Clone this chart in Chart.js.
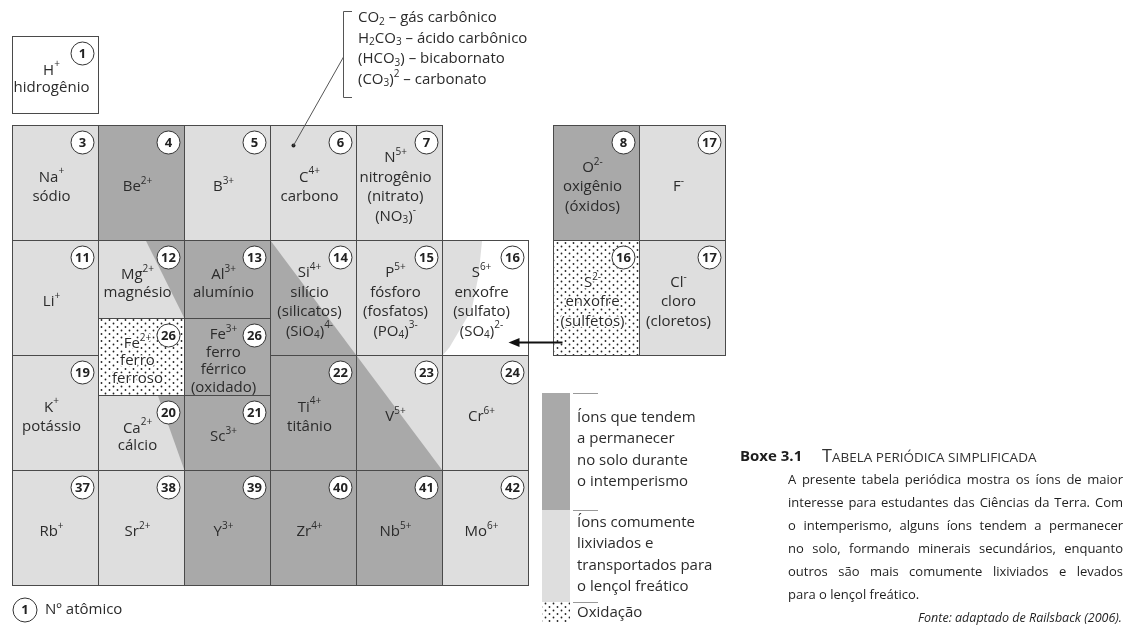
<!DOCTYPE html>
<html>
<head>
<meta charset="utf-8">
<script src="https://cdn.jsdelivr.net/npm/chart.js@4.4.1/dist/chart.umd.min.js"></script>
<style>
  html, body { margin: 0; padding: 0; background: #fff; }
  #wrap { width: 1125px; height: 630px; }
</style>
</head>
<body>
<div id="wrap"><canvas id="table" width="1125" height="630"></canvas></div>
<script>
// ---- data ----
const atomicNumbers = [1, 3, 4, 5, 6, 7, 11, 12, 13, 14, 15, 16, 26, 26, 19, 20, 21, 22, 23, 24, 37, 38, 39, 40, 41, 42, 8, 17, 16, 17];
const cellCol  = [0, 0, 1, 2, 3, 4, 0, 1, 2, 3, 4, 5, 1, 2, 0, 1, 2, 3, 4, 5, 0, 1, 2, 3, 4, 5, 6.29, 7.29, 6.29, 7.29];
const cellRow  = [-0.774, 0, 0, 0, 0, 0, 1, 1, 1, 1, 1, 1, 1.678, 1.678, 2, 2.348, 2.348, 2, 2, 2, 3, 3, 3, 3, 3, 3, 0, 0, 1, 1];
const cellSpan = [0.67, 1, 1, 1, 1, 1, 1, 0.678, 0.678, 1, 1, 1, 0.67, 0.67, 1, 0.652, 0.652, 1, 1, 1, 1, 1, 1, 1, 1, 1, 1, 1, 1, 1];
const cellFill = ['white', 'light', 'dark', 'light', 'light', 'light',
                  'light', 'light', 'dark', 'light', 'light', 'white',
                  'dot', 'dark',
                  'light', 'light', 'dark', 'dark', 'light', 'light',
                  'light', 'light', 'dark', 'dark', 'dark', 'light',
                  'dark', 'light', 'dot', 'light'];
const ionLabels = [
  ['H^{+}', 'hidrogênio'], ['Na^{+}', 'sódio'], ['Be^{2+}'], ['B^{3+}'], ['C^{4+}', 'carbono'],
  ['N^{5+}', 'nitrogênio', '(nitrato)', '(NO_{3})^{-}'],
  ['Li^{+}'], ['Mg^{2+}', 'magnésio'], ['Al^{3+}', 'alumínio'],
  ['Si^{4+}', 'silício', '(silicatos)', '(SiO_{4})^{4-}'],
  ['P^{5+}', 'fósforo', '(fosfatos)', '(PO_{4})^{3-}'],
  ['S^{6+}', 'enxofre', '(sulfato)', '(SO_{4})^{2-}'],
  ['Fe^{2+}', 'ferro', 'ferroso'], ['Fe^{3+}', 'ferro', 'férrico', '(oxidado)'],
  ['K^{+}', 'potássio'], ['Ca^{2+}', 'cálcio'], ['Sc^{3+}'], ['Ti^{4+}', 'titânio'], ['V^{5+}'], ['Cr^{6+}'],
  ['Rb^{+}'], ['Sr^{2+}'], ['Y^{3+}'], ['Zr^{4+}'], ['Nb^{5+}'], ['Mo^{6+}'],
  ['O^{2-}', 'oxigênio', '(óxidos)'], ['F^{-}'], ['S^{2-}', 'enxofre', '(sulfetos)'], ['Cl^{-}', 'cloro', '(cloretos)']
];
// partly shaded cells (shape given as fractions of the cell)
const overlayCell  = [7, 15, 9, 18, 11];
const overlayFill  = ['dark', 'dark', 'dark', 'dark', 'light'];
const overlayShape = [
  [[0.55, 0], [1, 0], [1, 1]],
  [[0.69, 0], [1, 0], [1, 1]],
  [[0, 0], [1, 1], [0, 1]],
  [[0, 0], [1, 1], [0, 1]],
  [[0, 0], [0.46, 0], [0.42, 0.3], [0.34, 0.6], [0.08, 0.93], [0, 1]]
];
const carbonNotes = ['CO_{2} – gás carbônico', 'H_{2}CO_{3} – ácido carbônico', '(HCO_{3}) – bicabornato', '(CO_{3})^{2} – carbonato'];
const legendDark  = ['Íons que tendem', 'a permanecer', 'no solo durante', 'o intemperismo'];
const legendLight = ['Íons comumente', 'lixiviados e', 'transportados para', 'o lençol freático'];
const boxLines = [
  'A presente tabela periódica mostra os íons de maior',
  'interesse para estudantes das Ciências da Terra. Com',
  'o intemperismo, alguns íons tendem a permanecer',
  'no solo, formando minerais secundários, enquanto',
  'outros são mais comumente lixiviados e levados',
  'para o lençol freático.'
];

// ---- style ----
const FONT  = "'Open Sans', 'Noto Sans', sans-serif";
const DARK  = '#a9a9a9';
const LIGHT = '#dedede';
const INK   = '#2b2b2b';
const LINE  = '#4a4a4a';

function parseRich(s) {
  const out = [];
  const re = /([\^_])\{([^}]*)\}|([^\^_]+)/g;
  let m;
  while ((m = re.exec(s))) {
    if (m[3]) out.push({ t: m[3], k: 'n' });
    else out.push({ t: m[2], k: m[1] === '^' ? 'sup' : 'sub' });
  }
  return out;
}

function drawRich(ctx, s, x, y, size, align, halo) {
  const segs = parseRich(s);
  const small = Math.round(size * 0.66);
  const fontFor = k => (k === 'n' ? size : small) + 'px ' + FONT;
  let w = 0;
  segs.forEach(sg => { ctx.font = fontFor(sg.k); sg.w = ctx.measureText(sg.t).width; w += sg.w; });
  let cx = align === 'center' ? x - w / 2 : x;
  ctx.textAlign = 'left';
  ctx.textBaseline = 'middle';
  segs.forEach(sg => {
    ctx.font = fontFor(sg.k);
    const dy = sg.k === 'sup' ? -size * 0.38 : sg.k === 'sub' ? size * 0.25 : 0;
    if (halo) {
      ctx.save();
      ctx.strokeStyle = '#fff';
      ctx.lineWidth = 3;
      ctx.lineJoin = 'round';
      ctx.strokeText(sg.t, cx, y + dy);
      ctx.restore();
    }
    ctx.fillText(sg.t, cx, y + dy);
    cx += sg.w;
  });
}

function dotPattern(ctx) {
  const p = document.createElement('canvas');
  p.width = 8; p.height = 7;
  const g = p.getContext('2d');
  g.fillStyle = '#fff';
  g.fillRect(0, 0, 8, 7);
  g.fillStyle = '#222';
  g.beginPath(); g.arc(1.5, 1.5, 0.9, 0, Math.PI * 2); g.fill();
  g.beginPath(); g.arc(5.5, 5, 0.9, 0, Math.PI * 2); g.fill();
  return ctx.createPattern(p, 'repeat');
}

function fillFor(ctx, kind) {
  if (kind === 'dark') return DARK;
  if (kind === 'light') return LIGHT;
  if (kind === 'dot') return dotPattern(ctx);
  return '#fff';
}

function justifyLine(ctx, text, x0, x1, y, justify) {
  const natural = ctx.measureText(text).width;
  const width = x1 - x0;
  if (natural > width) {
    ctx.save(); ctx.translate(x0, y); ctx.scale(width / natural, 1);
    ctx.fillText(text, 0, 0); ctx.restore();
    return;
  }
  if (!justify) { ctx.fillText(text, x0, y); return; }
  const words = text.split(' ');
  const wsum = words.reduce((s, w) => s + ctx.measureText(w).width, 0);
  const gap = (width - wsum) / (words.length - 1);
  let x = x0;
  words.forEach(w => { ctx.fillText(w, x, y); x += ctx.measureText(w).width + gap; });
}

function circleNum(ctx, n, cx, cy, r) {
  ctx.beginPath();
  ctx.arc(cx, cy, r, 0, Math.PI * 2);
  ctx.fillStyle = '#fff';
  ctx.fill();
  ctx.strokeStyle = '#333';
  ctx.lineWidth = 1;
  ctx.stroke();
  ctx.fillStyle = '#222';
  ctx.font = 'bold 13px ' + FONT;
  ctx.textAlign = 'center';
  ctx.textBaseline = 'middle';
  ctx.fillText(String(n), cx, cy + 0.5);
}

const tablePlugin = {
  id: 'periodicTable',
  afterDatasetsDraw(chart) {
    const ctx = chart.ctx;
    const xs = chart.scales.x, ys = chart.scales.y;
    const box = i => {
      const l = Math.round(xs.getPixelForValue(cellCol[i])) + 0.5;
      const r = Math.round(xs.getPixelForValue(cellCol[i] + 1)) + 0.5;
      const t = Math.round(ys.getPixelForValue(cellRow[i])) + 0.5;
      const b = Math.round(ys.getPixelForValue(cellRow[i] + cellSpan[i])) + 0.5;
      return { l, r, t, b, w: r - l, h: b - t };
    };
    ctx.save();

    // cell fills
    atomicNumbers.forEach((n, i) => {
      const c = box(i);
      ctx.fillStyle = fillFor(ctx, cellFill[i]);
      ctx.fillRect(c.l, c.t, c.w, c.h);
    });
    // partial shading
    overlayCell.forEach((ci, k) => {
      const c = box(ci);
      ctx.beginPath();
      overlayShape[k].forEach(([fx, fy], j) => {
        const px = c.l + fx * c.w, py = c.t + fy * c.h;
        j ? ctx.lineTo(px, py) : ctx.moveTo(px, py);
      });
      ctx.closePath();
      ctx.fillStyle = fillFor(ctx, overlayFill[k]);
      ctx.fill();
    });
    // borders
    ctx.strokeStyle = LINE;
    ctx.lineWidth = 1;
    atomicNumbers.forEach((n, i) => {
      const c = box(i);
      ctx.strokeRect(c.l, c.t, c.w, c.h);
    });
    // labels
    atomicNumbers.forEach((n, i) => {
      const c = box(i);
      const lines = ionLabels[i];
      const lh = cellSpan[i] < 0.75 ? 17.5 : 19.5;
      const cx = c.l + c.w / 2 - 4;
      const cy = c.t + c.h / 2 + 4;
      const y0 = cy - (lines.length - 1) * lh / 2;
      ctx.fillStyle = INK;
      lines.forEach((s, j) => drawRich(ctx, s, cx, y0 + j * lh, 15, 'center', cellFill[i] === 'dot'));
    });
    // atomic number circles
    atomicNumbers.forEach((n, i) => {
      const c = box(i);
      circleNum(ctx, n, c.r - 16, c.t + 17, 11.5);
    });

    // arrow from S2- (sulfetos) to S6+ (sulfato)
    const s2 = box(28), s6 = box(11);
    const ay = s2.b - 13, ax0 = s2.l + 9, ax1 = s6.r - 20;
    ctx.strokeStyle = '#111';
    ctx.lineWidth = 2;
    ctx.beginPath(); ctx.moveTo(ax0, ay); ctx.lineTo(ax1 + 8, ay); ctx.stroke();
    ctx.fillStyle = '#111';
    ctx.beginPath(); ctx.moveTo(ax1, ay); ctx.lineTo(ax1 + 11, ay - 4.5); ctx.lineTo(ax1 + 11, ay + 4.5); ctx.closePath(); ctx.fill();

    // carbon callout
    const cc = box(4);
    const dotX = cc.l + 23, dotY = cc.t + 20;
    ctx.fillStyle = '#222';
    ctx.beginPath(); ctx.arc(dotX, dotY, 2, 0, Math.PI * 2); ctx.fill();
    ctx.strokeStyle = '#555';
    ctx.lineWidth = 1;
    ctx.beginPath();
    ctx.moveTo(dotX, dotY); ctx.lineTo(343.5, 57);
    ctx.moveTo(352, 11.5); ctx.lineTo(343.5, 11.5); ctx.lineTo(343.5, 97.5); ctx.lineTo(352, 97.5);
    ctx.stroke();
    ctx.fillStyle = INK;
    carbonNotes.forEach((s, j) => drawRich(ctx, s, 358, 18 + j * 20.5, 15, 'left'));

    // atomic number key
    circleNum(ctx, 1, 25, 610, 12);
    ctx.fillStyle = INK;
    ctx.font = '15px ' + FONT;
    ctx.textAlign = 'left';
    ctx.textBaseline = 'middle';
    ctx.fillText('Nº atômico', 45, 610);

    // legend column
    ctx.fillStyle = DARK;  ctx.fillRect(542, 393, 28, 117);
    ctx.fillStyle = LIGHT; ctx.fillRect(542, 510, 28, 92);
    ctx.fillStyle = dotPattern(ctx); ctx.fillRect(542, 602, 28, 21);
    ctx.strokeStyle = '#999';
    ctx.beginPath();
    [393, 510, 602].forEach(y => { ctx.moveTo(573, y + 0.5); ctx.lineTo(598, y + 0.5); });
    ctx.stroke();
    ctx.fillStyle = INK;
    ctx.font = '15px ' + FONT;
    legendDark.forEach((s, j) => ctx.fillText(s, 577, 418 + j * 21.2));
    legendLight.forEach((s, j) => ctx.fillText(s, 577, 523 + j * 21.2));
    ctx.fillText('Oxidação', 577, 613);

    // box caption
    ctx.fillStyle = '#1e1e1e';
    ctx.font = 'bold 15px ' + FONT;
    ctx.fillText('Boxe 3.1', 740, 457);
    ctx.fillStyle = '#333';
    ctx.font = '18px ' + FONT;
    ctx.fillText('T', 822, 457);
    const tw = ctx.measureText('T').width;
    ctx.font = '13.5px ' + FONT;
    ctx.fillText('ABELA PERIÓDICA SIMPLIFICADA', 822 + tw, 458);
    ctx.fillStyle = '#1e1e1e';
    ctx.font = '13px ' + FONT;
    boxLines.forEach((s, j) => justifyLine(ctx, s, 788, 1123, 480 + j * 23, j < boxLines.length - 1));
    ctx.font = 'italic 12.5px ' + FONT;
    ctx.textAlign = 'right';
    ctx.fillText('Fonte: adaptado de Railsback (2006).', 1122, 618);

    ctx.restore();
  }
};

const xMin = -12 / 86, yMin = -125 / 115;

new Chart(document.getElementById('table'), {
  type: 'scatter',
  data: {
    datasets: [{
      label: 'Íons',
      data: atomicNumbers.map((n, i) => ({ x: cellCol[i] + 0.5, y: cellRow[i] + cellSpan[i] / 2 })),
      pointRadius: 0
    }]
  },
  options: {
    responsive: false,
    animation: false,
    events: [],
    layout: { padding: 0 },
    scales: {
      x: { type: 'linear', display: false, min: xMin, max: xMin + 1125 / 86 },
      y: { type: 'linear', display: false, reverse: true, min: yMin, max: yMin + 630 / 115 }
    },
    plugins: { legend: { display: false }, tooltip: { enabled: false } }
  },
  plugins: [tablePlugin]
});
</script>
</body>
</html>
